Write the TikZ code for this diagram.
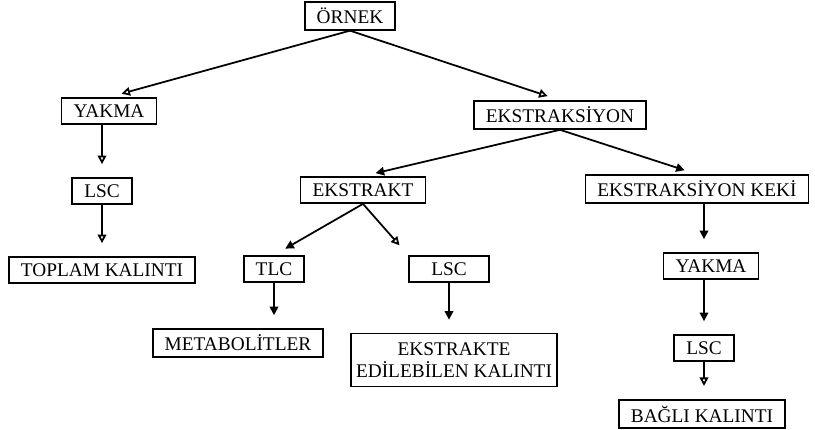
\documentclass[tikz,border=0pt]{standalone}
\usepackage{fontspec}
\setmainfont{Liberation Serif}
\usetikzlibrary{arrows.meta}
\begin{document}
\begin{tikzpicture}[every node/.style={rectangle,draw,line width=1pt,font=\fontsize{11}{12.5}\selectfont,inner xsep=0.24cm,minimum height=0.52cm,align=center},
        fullarrow/.style={line width=1pt,-{Triangle[length=0.17cm,width=0.17cm]},shorten >=0.26cm},
        openarrow/.style={line width=1pt,-{Triangle[open,length=0.17cm,width=0.17cm]},shorten >=0.26cm}]
        \useasboundingbox (0,0) rectangle (16.3,-8.6);

        \node at (7.0,-0.32)    (ornek) {ÖRNEK};
        \node at (2.18,-2.22)   (yakmaA) {YAKMA};
        \node at (2.04,-3.82)   (lscA) {LSC};
        \node at (2.04,-5.4)    (toplam) {TOPLAM KALINTI};
        \node at (11.2,-2.3)    (ekstraksiyon) {EKSTRAKSİYON};
        \node at (7.26,-3.8)    (ekstrakt) {EKSTRAKT};
        \node[minimum width=1.16cm] at (5.48,-5.38) (tlc) {TLC};
        \node[minimum width=1.6cm] at (8.98,-5.38) (lscB) {LSC};
        \node at (4.76,-6.86)   (metabolit) {METABOLİTLER};
        \node[inner xsep=0.1cm,minimum height=1.06cm] at (9.08,-7.2) (edilebilen) {EKSTRAKTE\\EDİLEBİLEN KALINTI};
        \node at (13.94,-3.78)  (kek) {EKSTRAKSİYON KEKİ};
        \node at (14.22,-5.32)  (yakmaB) {YAKMA};
        \node at (14.08,-6.96)  (lscC) {LSC};
        \node at (14.04,-8.28)  (bagli) {BAĞLI KALINTI};

        \draw[openarrow] (ornek.south) -- (yakmaA.north);
        \draw[openarrow] (ornek.south) -- (ekstraksiyon.north);
        \draw[openarrow] (yakmaA.south -| lscA) -- (lscA.north);
        \draw[openarrow] (lscA.south) -- (toplam.north);

        \draw[fullarrow] (ekstraksiyon.south) -- (ekstrakt.north);
        \draw[fullarrow] (ekstraksiyon.south) -- (kek.north);
        \draw[fullarrow] (ekstrakt.south) -- (tlc.north);
        \draw[openarrow] (ekstrakt.south) -- (lscB.north west);
        \draw[fullarrow] (tlc.south) -- (tlc.south |- metabolit.north);
        \draw[fullarrow] (lscB.south) -- (lscB.south |- edilebilen.north);

        \draw[fullarrow] (kek.south -| lscC) -- (yakmaB.north -| lscC);
        \draw[fullarrow] (yakmaB.south -| lscC) -- (lscC.north);
        \draw[openarrow] (lscC.south) -- (lscC.south |- bagli.north);
    \end{tikzpicture}
\end{document}
